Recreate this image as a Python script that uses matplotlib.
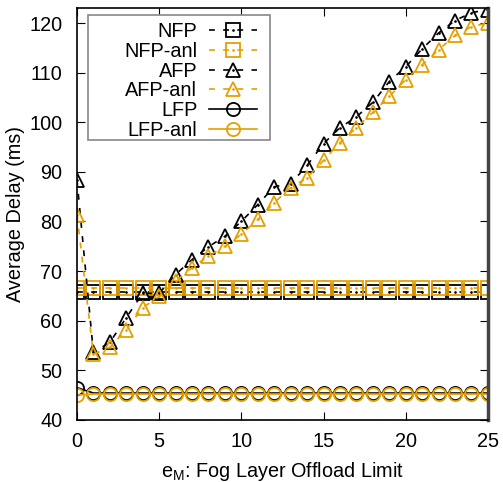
import matplotlib
matplotlib.use("Agg")
import matplotlib.pyplot as plt
from matplotlib.patches import Rectangle
from matplotlib.legend_handler import HandlerTuple
import numpy as np

plt.rcParams["font.family"] = ["Liberation Sans", "DejaVu Sans"]
plt.rcParams["font.size"] = 14.3

# offload limit e_M
limit = np.arange(0, 26)

nfp = [65.8] * 26
nfp_anl = [66.5] * 26
afp = [88.4, 53.6, 55.6, 60.6, 65.5, 65.5, 69.3, 72.3, 74.9, 77.0,
       80.0, 83.4, 87.0, 87.6, 91.3, 95.7, 98.9, 101.1, 104.0, 108.2,
       111.2, 114.8, 118.0, 120.5, 122.1, 122.7]
afp_anl = [81.4, 53.2, 54.6, 58.2, 62.6, 64.9, 67.9, 70.7, 73.0, 75.0,
           77.4, 80.4, 83.8, 86.8, 88.8, 92.3, 95.9, 98.9, 102.0, 105.2,
           108.6, 111.6, 114.6, 117.5, 119.3, 120.0]
lfp = [46.5] + [45.4] * 25
lfp_anl = [45.0] + [45.2] * 25

orange = "#E69F00"
dash = (0, (3.5, 5))

W, H = 503, 482
fig = plt.figure(figsize=(W / 100, H / 100), dpi=100)
ax = fig.add_axes([0.153, 0.129, 0.817, 0.854])

series = [
    ("NFP", nfp, "black", "s", dash),
    ("NFP-anl", nfp_anl, orange, "s", dash),
    ("AFP", afp, "black", "^", dash),
    ("AFP-anl", afp_anl, orange, "^", dash),
    ("LFP", lfp, "black", "o", "-"),
    ("LFP-anl", lfp_anl, orange, "o", "-"),
]
handles, labels = [], []
for name, vals, col, mk, ls in series:
    ln, = ax.plot(limit, vals, color=col, linestyle=ls, linewidth=1.2,
                  marker=mk, markersize=9.5, markerfacecolor="none",
                  markeredgecolor=col, markeredgewidth=1.3)
    dot = None
    if mk != "o":
        # gnuplot point types carry a small dot in the centre
        dot, = ax.plot(limit, vals, linestyle="none", marker=".",
                       markersize=1.8, color=col)
    handles.append((ln, dot) if dot is not None else ln)
    labels.append(name)

ax.set_xlim(0, 25)
ax.set_ylim(40, 123)
ax.set_xticks(np.arange(0, 26, 5))
ax.set_yticks(np.arange(40, 121, 10))
ax.tick_params(direction="in", length=6, top=True, right=True)
ax.tick_params(axis="x", pad=9)
ax.tick_params(axis="y", pad=10.5)
for s in ax.spines.values():
    s.set_linewidth(1.2)
ax.spines["right"].set_linewidth(2.5)
ax.spines["right"].set_color("#444444")

ax.set_xlabel(r"$\mathregular{e_M}$: Fog Layer Offload Limit", labelpad=6)
ax.set_ylabel("Average Delay (ms)", labelpad=3)

# legend: text right-aligned, sample on the right, box drawn separately
leg = ax.legend(handles, labels, loc="upper right",
                bbox_to_anchor=(257 / W, 1 - 22 / H),
                bbox_transform=fig.transFigure, markerfirst=False,
                handlelength=2.4, labelspacing=0.04, borderpad=0,
                handletextpad=0.6, frameon=False, borderaxespad=0,
                handler_map={tuple: HandlerTuple(ndivide=1, pad=0)})
leg.set_zorder(6)
ax.add_patch(Rectangle((88 / W, 1 - 140 / H), 182 / W, 125 / H,
                       transform=fig.transFigure, facecolor="white",
                       edgecolor="#888888", linewidth=1.2, zorder=5,
                       clip_on=False))

plt.savefig("out.png", dpi=100)
